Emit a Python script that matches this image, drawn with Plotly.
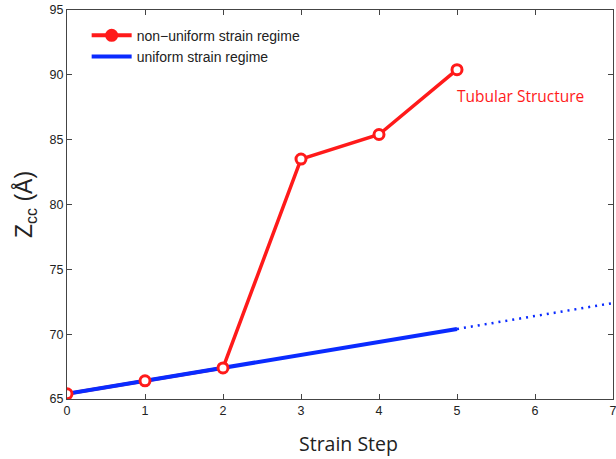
import plotly.graph_objects as go

steps_red = [0, 1, 2, 3, 4, 5]
zcc_red = [65.4, 66.4, 67.4, 83.5, 85.4, 90.4]
steps_blue = [0, 5]
zcc_blue = [65.4, 70.4]
steps_blue_ext = [5, 7]
zcc_blue_ext = [70.4, 72.4]
x_ticks = [0, 1, 2, 3, 4, 5, 6, 7]
y_ticks = [65, 70, 75, 80, 85, 90, 95]
x_range = [0, 7]
y_range = [65, 95]

RED = "#ff1a1a"
BLUE = "#0a2bff"
AX = "#444"

fig = go.Figure()
# legend-only entries
fig.add_trace(go.Scatter(x=[None], y=[None], mode="lines+markers", name="non\u2212uniform strain regime",
                         line=dict(color=RED, width=4), marker=dict(color=RED, size=13, symbol="circle")))
fig.add_trace(go.Scatter(x=[None], y=[None], mode="lines", name="uniform strain regime",
                         line=dict(color=BLUE, width=4)))
# data
fig.add_trace(go.Scatter(x=steps_red, y=zcc_red, mode="lines", showlegend=False,
                         line=dict(color=RED, width=3.5)))
fig.add_trace(go.Scatter(x=steps_blue, y=zcc_blue, mode="lines", showlegend=False,
                         line=dict(color=BLUE, width=4)))
fig.add_trace(go.Scatter(x=steps_blue_ext, y=zcc_blue_ext, mode="lines", showlegend=False,
                         line=dict(color=BLUE, width=2.5, dash="2px,5px")))
fig.add_trace(go.Scatter(x=steps_red, y=zcc_red, mode="markers", showlegend=False,
                         marker=dict(color="white", size=10, symbol="circle",
                                     line=dict(color=RED, width=3))))
# invisible trace to carry the mirrored top/right axes
fig.add_trace(go.Scatter(x=[None], y=[None], xaxis="x2", yaxis="y2", showlegend=False,
                         hoverinfo="skip"))

fig.add_annotation(x=5.82, y=88.4, text="Tubular Structure", showarrow=False,
                   font=dict(family="Open Sans", size=15.5, color=RED), xanchor="center", yanchor="middle")
fig.add_annotation(x=0.5155, y=0, xref="paper", yref="paper", yshift=-44, text="Strain Step",
                   showarrow=False, font=dict(family="Open Sans", size=19.5, color="#222"),
                   xanchor="center", yanchor="middle")

axis_common = dict(showline=True, linecolor=AX, linewidth=1, mirror=True,
                   ticks="inside", ticklen=5, tickcolor=AX, showgrid=False, zeroline=False,
                   automargin=False, ticklabeloverflow="allow",
                   tickfont=dict(family="Liberation Sans", size=12.5, color="#222"))
fig.update_layout(
    xaxis=dict(range=x_range, tickvals=x_ticks, **axis_common),
    yaxis=dict(range=y_range, tickvals=y_ticks, **axis_common,
               title=dict(text="Z<sub>cc</sub> (Å)", font=dict(family="Liberation Sans", size=23, color="#222"),
                          standoff=10)),
    xaxis2=dict(range=x_range, tickvals=x_ticks, overlaying="x", side="top", anchor="y",
                showline=True, linecolor=AX, linewidth=1, ticks="inside", ticklen=5, tickcolor=AX,
                showticklabels=False, showgrid=False, zeroline=False, automargin=False),
    yaxis2=dict(range=y_range, tickvals=y_ticks, overlaying="y", side="right", anchor="x",
                showline=True, linecolor=AX, linewidth=1, ticks="inside", ticklen=5, tickcolor=AX,
                showticklabels=False, showgrid=False, zeroline=False, automargin=False),
)

fig.update_layout(width=616, height=459, margin=dict(l=67, r=3, t=10, b=60),
                  paper_bgcolor="white", plot_bgcolor="white",
                  legend=dict(x=0.036, y=0.975, xanchor="left", yanchor="top", bgcolor="rgba(0,0,0,0)",
                              font=dict(family="Liberation Sans", size=14, color="#222"),
                              tracegroupgap=0, itemwidth=40))
fig.write_html("out.html", config={"displayModeBar": False},
               post_script="document.body.style.margin='0';document.body.style.overflow='hidden';")
